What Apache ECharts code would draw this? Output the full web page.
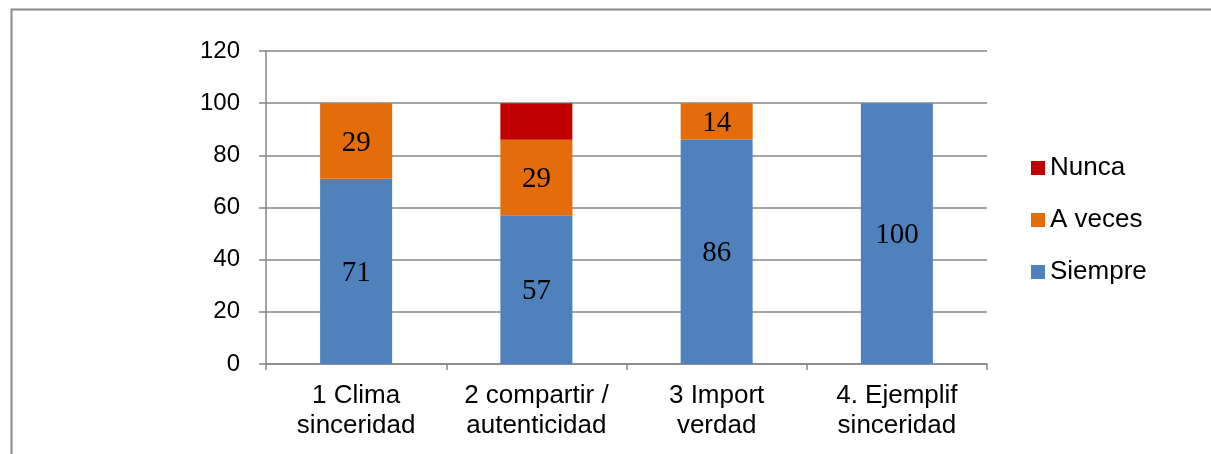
<!DOCTYPE html>
<html>
<head>
<meta charset="utf-8">
<script src="https://cdn.jsdelivr.net/npm/echarts@6/dist/echarts.min.js"></script>
<style>
  html, body { margin: 0; padding: 0; background: #fff; }
  #chart { width: 1211px; height: 454px; }
</style>
</head>
<body>
<div id="chart"></div>
<script>
// Categories and stacked percentages per answer
const categories = ['1 Clima\nsinceridad', '2 compartir /\nautenticidad', '3 Import\nverdad', '4. Ejemplif\nsinceridad'];
const siempre = [71, 57, 86, 100];
const aVeces = [29, 29, 14, 0];
const nunca = [0, 14, 0, 0];
const yTicks = { min: 0, max: 120, interval: 20 };

const axisGrey = '#868686';
const valueLabel = {
  show: true,
  position: 'inside',
  offset: [0, 2],
  color: '#000',
  fontFamily: 'Liberation Serif',
  fontSize: 29,
  formatter: p => (p.value > 0 ? String(p.value) : '')
};

function barSeries(name, data, color, labelled) {
  return {
    name: name,
    type: 'bar',
    stack: 'total',
    barWidth: 72,
    data: data,
    itemStyle: { color: color },
    label: labelled ? valueLabel : { show: false },
    emphasis: { disabled: true }
  };
}

const chart = echarts.init(document.getElementById('chart'), null, { renderer: 'canvas' });
chart.setOption({
  animation: false,
  backgroundColor: '#fff',
  graphic: [{
    type: 'rect',
    shape: { x: 11.5, y: 9.5, width: 1230, height: 470 },
    style: { fill: 'none', stroke: '#8a8a8a', lineWidth: 2 },
    silent: true
  }],
  grid: { left: 266, right: 224, top: 51, bottom: 90 },
  legend: {
    orient: 'vertical',
    left: 1031,
    top: 155,
    padding: 0,
    itemWidth: 14,
    itemHeight: 14,
    itemGap: 26,
    icon: 'rect',
    data: ['Nunca', 'A veces', 'Siempre'],
    textStyle: { fontFamily: 'Liberation Sans', fontSize: 26, color: '#000', lineHeight: 26 }
  },
  xAxis: {
    type: 'category',
    data: categories,
    axisLine: { lineStyle: { color: axisGrey, width: 1.5 } },
    axisTick: { show: true, length: 6, lineStyle: { color: axisGrey, width: 1.5 } },
    axisLabel: {
      interval: 0,
      color: '#000',
      fontFamily: 'Liberation Sans',
      fontSize: 26,
      lineHeight: 30,
      margin: 17
    }
  },
  yAxis: {
    type: 'value',
    min: yTicks.min,
    max: yTicks.max,
    interval: yTicks.interval,
    axisLine: { show: true, lineStyle: { color: axisGrey, width: 1.5 } },
    axisTick: { show: true, length: 7, lineStyle: { color: axisGrey, width: 1.5 } },
    splitLine: { show: true, lineStyle: { color: axisGrey, width: 1.5 } },
    axisLabel: {
      color: '#000',
      fontFamily: 'Liberation Sans',
      fontSize: 24,
      margin: 26
    }
  },
  series: [
    barSeries('Siempre', siempre, '#4F81BD', true),
    barSeries('A veces', aVeces, '#E46C0A', true),
    barSeries('Nunca', nunca, '#C00000', false)
  ]
});
</script>
</body>
</html>
